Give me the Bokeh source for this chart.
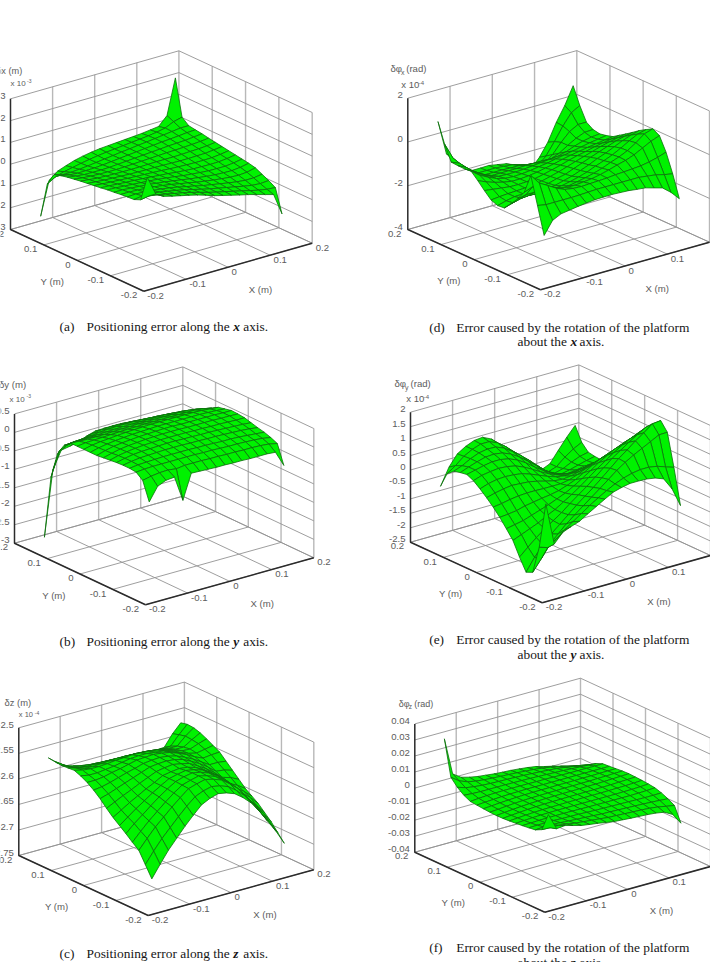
from bokeh.plotting import figure
from bokeh.embed import file_html
from bokeh.resources import INLINE
from bokeh.core.properties import value

XY_NODES = [-0.16, -0.14, -0.12, -0.10, -0.08, -0.06, -0.04, -0.02, 0.0, 0.02, 0.04, 0.06, 0.08, 0.10, 0.12, 0.14, 0.16]
XY_TICKS = [-0.2, -0.1, 0.0, 0.1, 0.2]
XY_LABELS = ["-0.2", "-0.1", "0", "0.1", "0.2"]

# heights, rows = y node, columns = x node
Z_A = [  # x 1e-5 m
 [172,85,63,53,44,35,25,13,0,-10,-20,-30,-39,-50,-61,-72,-172],
 [55,62,56,48,40,32,23,12,1,-9,-18,-27,-36,-46,-55,-62,-65],
 [42,48,48,43,36,29,21,11,1,-8,-16,-24,-32,-40,-47,-50,-47],
 [40,42,41,37,32,26,19,10,2,-7,-14,-21,-28,-34,-38,-38,-32],
 [37,37,35,32,28,23,17,9,2,-6,-12,-18,-23,-27,-29,-26,-17],
 [33,33,30,27,24,19,14,8,2,-5,-10,-15,-19,-21,-22,-18,-10],
 [30,28,25,22,19,16,12,7,2,-4,-8,-12,-15,-16,-16,-12,-5],
 [25,23,20,17,15,12,9,5,2,-3,-6,-9,-10,-11,-10,-6,0],
 [21,18,15,13,10,8,6,4,2,-1,-3,-5,-6,-6,-5,-1,5],
 [17,13,10,8,6,4,3,2,2,1,0,-1,-1,0,1,5,10],
 [13,9,5,3,2,1,1,1,2,3,3,3,4,6,7,10,15],
 [8,3,0,-2,-3,-3,-2,0,2,4,6,8,9,11,13,16,20],
 [3,-3,-7,-8,-8,-7,-4,-1,2,5,8,11,14,16,18,22,26],
 [-4,-12,-15,-14,-13,-10,-6,-2,2,6,10,14,18,21,24,28,30],
 [-13,-25,-25,-22,-18,-13,-8,-3,2,6,11,15,20,25,30,35,35],
 [-70,-48,-36,-28,-20,-13,-7,-2,2,6,10,14,18,24,32,50,60],
 [-233,-80,-48,-34,-21,-12,-5,0,3,6,9,12,15,20,25,64,226],
]
Z_B = [  # x 1e-5 m
 [-51,-15,-5,-3,-72,-5,-6,-7,-8,-8,-9,-9,-10,-10,-10,-12,-54],
 [-1,4,7,8,5,8,8,8,7,7,6,6,5,5,4,2,-3],
 [13,15,16,16,16,16,16,16,15,15,14,13,13,12,11,9,5],
 [15,18,19,20,21,21,21,21,20,20,19,18,18,17,15,13,11],
 [15,19,22,23,24,25,25,25,24,24,23,23,22,21,20,18,15],
 [14,19,23,25,26,27,28,28,27,27,26,26,25,24,23,22,20],
 [12,18,22,25,27,28,29,29,29,29,28,28,27,27,26,25,25],
 [10,16,21,24,26,28,29,30,30,30,29,29,29,29,28,28,27],
 [8,15,20,23,25,27,28,29,30,30,29,29,29,29,29,28,28],
 [8,14,18,21,23,25,26,27,28,28,28,28,28,28,27,26,24],
 [8,13,16,18,20,22,23,24,25,25,25,25,25,25,24,22,20],
 [8,11,12,13,14,15,16,16,17,17,17,17,17,17,17,14,10],
 [8,7,6,6,6,7,8,8,9,9,9,9,9,9,8,5,0],
 [-6,-5,-5,-4,-3,-2,-1,0,0,0,0,0,0,-1,-3,-7,-15],
 [-37,-21,-17,-16,-14,-11,-9,-8,-8,-8,-9,-10,-11,-13,-16,-22,-31],
 [-109,-44,-33,-31,-28,-22,-19,-18,-18,-19,-20,-22,-24,-27,-32,-37,-44],
 [-280,-105,-57,-53,-48,-38,-31,-30,-30,-30,-32,-35,-38,-41,-44,-52,-61],
]
Z_C = [  # x 1e-7 m
 [-2699,-2675,-2652,-2633,-2614,-2597,-2581,-2573,-2568,-2571,-2577,-2589,-2604,-2625,-2649,-2673,-2701],
 [-2677,-2655,-2635,-2618,-2601,-2585,-2571,-2564,-2560,-2563,-2569,-2581,-2596,-2616,-2639,-2661,-2686],
 [-2655,-2636,-2618,-2603,-2588,-2574,-2561,-2556,-2552,-2556,-2562,-2574,-2588,-2608,-2629,-2649,-2671],
 [-2645,-2628,-2612,-2598,-2584,-2571,-2560,-2555,-2551,-2555,-2561,-2572,-2585,-2603,-2623,-2640,-2659],
 [-2634,-2619,-2606,-2593,-2580,-2569,-2559,-2554,-2551,-2554,-2560,-2570,-2582,-2599,-2617,-2630,-2647],
 [-2624,-2612,-2600,-2589,-2578,-2568,-2559,-2555,-2552,-2555,-2560,-2570,-2581,-2597,-2613,-2624,-2638],
 [-2614,-2604,-2594,-2585,-2576,-2568,-2559,-2556,-2554,-2556,-2561,-2570,-2581,-2595,-2610,-2618,-2629],
 [-2602,-2594,-2586,-2579,-2571,-2564,-2557,-2554,-2552,-2555,-2559,-2568,-2578,-2590,-2604,-2609,-2617],
 [-2589,-2584,-2578,-2572,-2566,-2560,-2554,-2552,-2551,-2553,-2557,-2565,-2574,-2585,-2598,-2600,-2605],
 [-2578,-2576,-2572,-2567,-2562,-2558,-2553,-2551,-2550,-2552,-2556,-2563,-2571,-2581,-2591,-2591,-2593],
 [-2569,-2569,-2567,-2563,-2560,-2556,-2552,-2551,-2550,-2552,-2555,-2561,-2568,-2577,-2584,-2582,-2581],
 [-2562,-2565,-2565,-2563,-2561,-2558,-2555,-2554,-2554,-2556,-2558,-2564,-2570,-2576,-2580,-2577,-2574],
 [-2557,-2561,-2563,-2563,-2562,-2560,-2559,-2558,-2559,-2560,-2562,-2567,-2572,-2577,-2578,-2572,-2567],
 [-2558,-2563,-2568,-2569,-2568,-2567,-2566,-2566,-2567,-2568,-2569,-2572,-2576,-2580,-2580,-2570,-2561],
 [-2559,-2567,-2573,-2575,-2575,-2575,-2575,-2576,-2576,-2576,-2577,-2579,-2581,-2584,-2584,-2569,-2557],
 [-2557,-2568,-2577,-2580,-2582,-2583,-2584,-2585,-2586,-2586,-2587,-2588,-2590,-2591,-2590,-2572,-2556],
 [-2556,-2570,-2580,-2585,-2589,-2592,-2594,-2596,-2597,-2597,-2597,-2598,-2599,-2599,-2598,-2576,-2559],
]
Z_D = [  # x 1e-6 rad
 [-201,-143,-124,-118,-112,-107,-103,-102,-101,-103,-105,-110,-114,-125,-136,-167,-207],
 [-78,-85,-85,-85,-85,-84,-82,-80,-80,-80,-80,-80,-80,-85,-90,-100,-107],
 [45,0,-22,-45,-62,-68,-70,-68,-66,-64,-60,-58,-55,-52,-45,-35,-22],
 [-45,-30,-40,-52,-68,-78,-78,-74,-70,-62,-52,-40,-30,-15,5,25,40],
 [-89,-80,-80,-85,-94,-98,-95,-88,-80,-70,-58,-42,-28,-10,15,45,57],
 [-126,-115,-110,-112,-115,-112,-108,-100,-90,-78,-62,-48,-32,-12,10,30,40],
 [-158,-145,-135,-132,-130,-125,-120,-110,-100,-85,-70,-52,-38,-20,-3,12,22],
 [-161,-150,-142,-140,-136,-130,-125,-114,-105,-90,-75,-60,-46,-32,-18,-8,0],
 [-149,-145,-142,-140,-138,-134,-128,-118,-108,-95,-82,-70,-58,-46,-36,-28,-21],
 [-120,-125,-130,-135,-136,-134,-130,-122,-112,-102,-90,-80,-72,-62,-55,-48,-41],
 [-88,-105,-118,-128,-135,-135,-132,-126,-118,-110,-100,-92,-85,-78,-72,-66,-61],
 [-59,-88,-108,-125,-135,-138,-136,-132,-126,-120,-112,-105,-98,-90,-82,-76,-70],
 [-62,-85,-110,-128,-140,-142,-142,-140,-136,-132,-128,-125,-115,-100,-88,-80,-76],
 [-61,-80,-112,-135,-150,-150,-150,-150,-148,-148,-148,-150,-135,-110,-88,-72,-70],
 [-59,-75,-112,-142,-160,-160,-160,-162,-162,-168,-172,-185,-155,-110,-72,-50,-50],
 [10,-65,-110,-142,-165,-165,-165,-168,-172,-182,-192,-212,-175,-120,-60,-10,12],
 [99,-59,-109,-140,-168,-168,-167,-174,-181,-196,-211,-237,-195,-137,-57,9,89],
]
Z_E = [  # x 1e-6 rad
 [55,-92,-60,-48,-38,-20,-3,14,30,38,44,44,43,38,27,-16,-82],
 [-105,-115,-95,-70,-50,-30,-10,8,25,40,52,60,65,65,60,50,40],
 [-203,-165,-125,-95,-68,-45,-22,0,22,45,68,88,105,120,135,150,151],
 [-213,-170,-135,-105,-80,-55,-30,-7,15,40,65,90,112,135,155,178,181],
 [-171,-145,-120,-98,-78,-58,-35,-13,8,32,56,80,100,120,138,155,159],
 [-124,-112,-100,-88,-72,-58,-40,-22,-2,20,42,62,82,100,115,128,130],
 [-94,-88,-82,-72,-62,-52,-40,-28,-12,6,25,45,62,78,90,100,104],
 [-65,-62,-58,-50,-45,-40,-36,-30,-20,-8,8,25,40,52,62,70,72],
 [-40,-36,-30,-26,-24,-24,-25,-25,-25,-20,-10,3,15,26,34,40,42],
 [-18,-10,-4,0,-2,-4,-10,-18,-25,-28,-25,-18,-8,0,8,15,18],
 [2,12,18,20,18,14,4,-8,-20,-30,-35,-34,-28,-22,-16,-10,-8],
 [20,30,35,38,36,30,18,2,-15,-30,-42,-48,-48,-44,-38,-32,-30],
 [31,38,45,50,50,44,32,14,-8,-28,-46,-58,-64,-60,-55,-52,-50],
 [27,38,48,56,58,54,42,24,2,-22,-46,-66,-76,-70,-62,-54,-48],
 [21,32,48,60,65,64,52,32,10,-15,-42,-68,-84,-76,-62,-50,-44],
 [2,22,46,62,72,72,60,38,12,-15,-44,-70,-90,-80,-55,-35,-20],
 [-52,6,44,62,74,77,63,38,12,-15,-44,-70,-93,-80,-42,-5,28],
]
Z_F = [  # x 1e-4 rad
 [143,40,46,32,18,10,3,-6,-14,-18,-22,-25,-28,-33,-42,-70,-139],
 [30,28,28,22,14,8,3,-2,-8,-10,-13,-16,-18,-22,-28,-38,-47],
 [10,14,14,12,8,5,2,-1,-5,-6,-8,-10,-12,-14,-17,-20,-24],
 [4,6,7,7,5,4,3,1,-1,-2,-3,-4,-5,-6,-7,-7,-6],
 [-1,1,3,4,4,4,4,3,2,2,1,1,1,1,2,4,7],
 [-5,-2,1,3,4,5,5,5,5,5,5,5,5,6,7,9,12],
 [-9,-5,-1,2,4,5,6,7,7,8,8,8,9,10,11,13,16],
 [-12,-7,-3,1,4,6,7,8,9,9,10,10,11,12,14,16,18],
 [-13,-8,-3,1,4,6,8,9,10,10,11,12,12,14,16,18,20],
 [-11,-7,-2,2,5,7,8,9,10,11,11,12,12,14,15,17,18],
 [-8,-4,0,3,6,8,9,10,10,11,11,11,12,12,13,14,14],
 [-4,0,3,6,8,9,10,10,10,10,10,10,10,10,10,10,10],
 [0,5,8,10,11,11,11,11,10,10,9,8,7,7,7,7,7],
 [20,16,14,14,14,14,13,12,11,9,7,5,3,0,-3,-6,-10],
 [51,34,26,21,18,16,15,13,11,8,5,1,-3,-10,-18,-26,-35],
 [95,58,38,28,22,18,15,12,9,5,1,-5,-13,-24,-36,-48,-60],
 [316,83,48,34,24,18,12,8,5,0,-6,-14,-28,-40,-54,-70,-93],
]

TICKS_A = [-300, -200, -100, 0, 100, 200, 300]
LABELS_A = ["-3", "-2", "-1", "0", "1", "2", "3"]
TICKS_B = [-300, -250, -200, -150, -100, -50, 0, 50]
LABELS_B = ["-3", "-2.5", "-2", "-1.5", "-1", "-0.5", "0", "0.5"]
TICKS_C = [-2750, -2700, -2650, -2600, -2550, -2500]
LABELS_C = ["-2.75", "-2.7", "-2.65", "-2.6", "-2.55", "-2.5"]
TICKS_D = [-400, -200, 0, 200]
LABELS_D = ["-4", "-2", "0", "2"]
TICKS_E = [-250, -200, -150, -100, -50, 0, 50, 100, 150, 200]
LABELS_E = ["-2.5", "-2", "-1.5", "-1", "-0.5", "0", "0.5", "1", "1.5", "2"]
TICKS_F = [-400, -300, -200, -100, 0, 100, 200, 300, 400]
LABELS_F = ["-0.04", "-0.03", "-0.02", "-0.01", "0", "0.01", "0.02", "0.03", "0.04"]

# front corner, left corner, right corner of the floor, height of the box (page pixels)
PANELS = [
    dict(Z=Z_A, ticks=TICKS_A, labels=LABELS_A, F=(143.3, 290.7), L=(10.0, 229.0), R=(311.7, 242.7), H=130.7),
    dict(Z=Z_B, ticks=TICKS_B, labels=LABELS_B, F=(145.0, 604.3), L=(14.0, 542.7), R=(313.3, 557.3), H=129.3),
    dict(Z=Z_C, ticks=TICKS_C, labels=LABELS_C, F=(147.7, 915.0), L=(18.3, 855.0), R=(313.3, 869.3), H=127.7),
    dict(Z=Z_D, ticks=TICKS_D, labels=LABELS_D, F=(540.0, 289.3), L=(407.3, 229.0), R=(709.0, 241.7), H=131.3),
    dict(Z=Z_E, ticks=TICKS_E, labels=LABELS_E, F=(541.7, 602.3), L=(410.0, 541.7), R=(710.0, 555.0), H=130.0),
    dict(Z=Z_F, ticks=TICKS_F, labels=LABELS_F, F=(544.3, 911.7), L=(414.3, 851.7), R=(710.0, 866.0), H=128.3),
]

SANS = value("Liberation Sans")
SERIF = value("Liberation Serif")
INK = "#5c5c5c"
BLACK = "#161616"

p = figure(width=710, height=962, x_range=(0, 710), y_range=(962, 0),
           output_backend="svg", toolbar_location=None, min_border=0, outline_line_color=None)
p.axis.visible = False
p.grid.visible = False
p.styles = {"position": "absolute", "left": "0px", "top": "0px"}


def txt(x, y, s, size=9.6, color=INK, font=SANS, align="left", style="normal"):
    p.text(x=[x], y=[y], text=[s], text_font=font, text_font_size=f"{size}px", text_color=color,
           text_align=align, text_baseline="middle", text_font_style=style)


for P in PANELS:
    F, L, R, H = P["F"], P["L"], P["R"], P["H"]
    zmin, zmax = P["ticks"][0], P["ticks"][-1]

    def proj(x, y, z):
        u = (x + 0.2) / 0.4
        v = (y + 0.2) / 0.4
        w = (z - zmin) / (zmax - zmin)
        return (F[0] + u * (R[0] - F[0]) + v * (L[0] - F[0]),
                F[1] + u * (R[1] - F[1]) + v * (L[1] - F[1]) - w * H)

    # walls and floor grid
    thin_x, thin_y, thick_x, thick_y = [], [], [], []
    for t in P["ticks"]:
        a, b, c = proj(-0.2, 0.2, t), proj(0.2, 0.2, t), proj(0.2, -0.2, t)
        thin_x.append([a[0], b[0], c[0]])
        thin_y.append([a[1], b[1], c[1]])
    for t in XY_TICKS:
        a, b = proj(t, -0.2, zmin), proj(t, 0.2, zmin)
        thin_x.append([a[0], b[0]])
        thin_y.append([a[1], b[1]])
        a, b = proj(-0.2, t, zmin), proj(0.2, t, zmin)
        thin_x.append([a[0], b[0]])
        thin_y.append([a[1], b[1]])
        if t > -0.2:
            a, b = proj(t, 0.2, zmin), proj(t, 0.2, zmax)
            thick_x.append([a[0], b[0]])
            thick_y.append([a[1], b[1]])
        if t < 0.2:
            a, b = proj(0.2, t, zmin), proj(0.2, t, zmax)
            thick_x.append([a[0], b[0]])
            thick_y.append([a[1], b[1]])
    p.multi_line(thick_x, thick_y, line_color="#b8b8b8", line_width=1.4)
    p.multi_line(thin_x, thin_y, line_color="#939393", line_width=0.9)

    # surface, far quads first
    Z = P["Z"]
    n = len(XY_NODES)
    quads = sorted(((i, j) for i in range(n - 1) for j in range(n - 1)), key=lambda q: -(q[0] + q[1]))
    qx, qy = [], []
    for i, j in quads:
        pts = [proj(XY_NODES[a], XY_NODES[b], Z[b][a]) for a, b in ((i, j), (i + 1, j), (i + 1, j + 1), (i, j + 1))]
        qx.append([q[0] for q in pts])
        qy.append([q[1] for q in pts])
    p.patches(qx, qy, fill_color="#00f200", line_color="#0c6e0c", line_width=0.8)

    # dark axes
    ax = [proj(-0.2, -0.2, zmin), proj(-0.2, 0.2, zmin), proj(-0.2, 0.2, zmax)]
    ax2 = [proj(-0.2, -0.2, zmin), proj(0.2, -0.2, zmin)]
    p.line([q[0] for q in ax], [q[1] for q in ax], line_color="#2b2b2b", line_width=1.5)
    p.line([q[0] for q in ax2], [q[1] for q in ax2], line_color="#2b2b2b", line_width=1.5)

    # tick labels
    for t, s in zip(P["ticks"], P["labels"]):
        q = proj(-0.2, 0.2, t)
        txt(q[0] - 5, q[1] - 3, s, align="right")
    for t, s in zip(XY_TICKS, XY_LABELS):
        q = proj(t, -0.2, zmin)
        if q[0] + 3.5 < 706:
            txt(q[0] + 3.5, q[1] + 4.5, s)
        q = proj(-0.2, t, zmin)
        txt(q[0] - 6.5, q[1] + 4.2, s, align="right")
    txt(F[0] + 116.7, F[1] - 1.5, "X (m)", align="center")
    txt(F[0] - 91.5, F[1] - 9.5, "Y (m)", align="center")

# z axis titles
txt(21.7, 70.7, "δx (m)", size=9.2, align="right")
txt(10, 83.3, "x 10", size=8)
txt(26.5, 80.5, "-3", size=5)
txt(25.7, 384, "δy (m)", size=9.6, align="right")
txt(9, 398.7, "x 10", size=8)
txt(26, 395, "-3", size=5)
txt(4, 702.3, "δz (m)", size=9.4)
txt(18.3, 714.3, "x 10", size=7.5)
txt(34.3, 712, "-4", size=5)
txt(390, 68.3, "δφ", size=9.6)
txt(400.5, 71.5, "x", size=7)
txt(405.7, 68.3, "(rad)", size=9.6)
txt(400.7, 84, "x 10", size=9.6)
txt(418.3, 82, "-4", size=6)
txt(394, 383.3, "δφ", size=9.6)
txt(404.5, 386.5, "y", size=7)
txt(410, 383.3, "(rad)", size=9.6)
txt(405.7, 398.3, "x 10", size=9.6)
txt(423.3, 396, "-4", size=6)
txt(398.3, 703.3, "δφ", size=9)
txt(408.3, 706, "z", size=6.5)
txt(413.7, 703.3, "(rad)", size=9)

# captions
CAP = 13.4
for y, lab, ax_name in ((326, "(a)", "x"), (641, "(b)", "y"), (952.7, "(c)", "z")):
    txt(59, y, lab, size=CAP, color=BLACK, font=SERIF)
    txt(86, y, "Positioning error along the", size=CAP, color=BLACK, font=SERIF)
    txt(232.7, y, ax_name, size=CAP, color=BLACK, font=SERIF, style="bold italic")
    txt(242.7, y, "axis.", size=CAP, color=BLACK, font=SERIF)
for y, lab, ax_name in ((326.7, "(d)", "x"), (639.3, "(e)", "y"), (947.3, "(f)", "z")):
    txt(428.7, y, lab, size=CAP, color=BLACK, font=SERIF)
    txt(455.7, y, "Error caused by the rotation of the platform", size=CAP, color=BLACK, font=SERIF)
    txt(517, y + 14.5, "about the", size=CAP, color=BLACK, font=SERIF)
    txt(570, y + 14.5, ax_name, size=CAP, color=BLACK, font=SERIF, style="bold italic")
    txt(579, y + 14.5, "axis.", size=CAP, color=BLACK, font=SERIF)

open("out.html", "w").write(file_html(p, INLINE))
